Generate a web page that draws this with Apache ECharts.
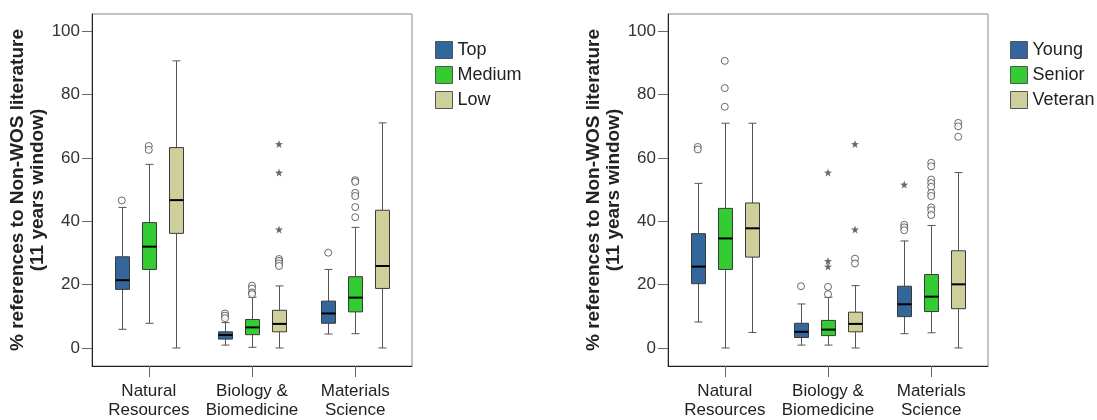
<!DOCTYPE html>
<html>
<head>
<meta charset="utf-8">
<script src="https://cdn.jsdelivr.net/npm/echarts@6/dist/echarts.min.js"></script>
<style>
  html, body { margin: 0; padding: 0; background: #fff; }
  #chart { width: 1097px; height: 420px; }
</style>
</head>
<body>
<div id="chart"></div>
<script>
// categories and ticks
var categories = ['Natural\nResources', 'Biology &\nBiomedicine', 'Materials\nScience'];
var yTicks = [0, 20, 40, 60, 80, 100];
var leftNames = ['Top', 'Medium', 'Low'];
var rightNames = ['Young', 'Senior', 'Veteran'];
var groupColors = ['#33669a', '#33cc33', '#cfcf9b'];

// boxes: [low whisker, q1, median, q3, high whisker] per category
var topBox = [[5.9, 18.5, 21.4, 28.8, 44.4], [0.9, 2.8, 4.1, 5.1, 8.0], [4.4, 7.8, 10.9, 14.8, 24.8]];
var mediumBox = [[7.8, 24.8, 32.0, 39.6, 58.0], [0.2, 4.2, 6.5, 9.0, 16.0], [4.5, 11.4, 15.9, 22.5, 38.1]];
var lowBox = [[0, 36.2, 46.7, 63.3, 90.7], [0, 5.1, 7.6, 11.9, 19.6], [0, 18.8, 25.9, 43.5, 71.1]];
var youngBox = [[8.2, 20.3, 25.7, 36.1, 52.0], [0.9, 3.3, 5.1, 7.8, 13.9], [4.5, 9.9, 13.8, 19.5, 33.8]];
var seniorBox = [[0, 24.8, 34.6, 44.1, 71.0], [0.9, 3.9, 5.8, 8.7, 16.0], [4.8, 11.5, 16.2, 23.2, 38.7]];
var veteranBox = [[4.9, 28.7, 37.8, 45.8, 71.0], [0, 5.1, 7.6, 11.3, 19.7], [0, 12.4, 20.1, 30.7, 55.4]];

// outliers (circles) and extremes (stars): [category index, value]
var topOut = [[0, 46.6], [1, 10.9], [1, 10.2], [1, 9.4], [2, 30.1]];
var mediumOut = [[0, 63.8], [0, 62.6], [1, 19.7], [1, 18.8], [1, 17.5], [1, 17.0],
  [2, 53.0], [2, 52.5], [2, 49.0], [2, 48.0], [2, 44.5], [2, 41.3]];
var lowOut = [[1, 28.1], [1, 27.5], [1, 26.7], [1, 25.9]];
var lowExt = [[1, 64.4], [1, 55.4], [1, 37.4]];
var youngOut = [[0, 63.5], [0, 62.7], [1, 19.5], [2, 38.9], [2, 38.1], [2, 37.2]];
var youngExt = [[2, 51.6]];
var seniorOut = [[0, 90.7], [0, 82.1], [0, 76.2], [1, 19.3], [1, 17.0],
  [2, 58.5], [2, 57.4], [2, 53.2], [2, 52.1], [2, 50.9], [2, 49.0], [2, 48.0], [2, 44.4], [2, 43.5], [2, 42.0]];
var seniorExt = [[1, 55.4], [1, 27.5], [1, 25.7]];
var veteranOut = [[1, 28.2], [1, 26.7], [2, 71.1], [2, 70.0], [2, 66.7]];
var veteranExt = [[1, 64.4], [1, 37.4]];

var offsets = [-27, 0, 27];
var starPath = 'path://M0,-10L2.35,-3.24L9.51,-3.09L3.8,1.24L5.88,8.09L0,4L-5.88,8.09L-3.8,1.24L-9.51,-3.09L-2.35,-3.24Z';

function boxRenderer(offset) {
    return function (params, api) {
        var x = Math.round(api.coord([api.value(0), 0])[0] + offset) + 0.5;
        var yLow = api.coord([0, api.value(1)])[1];
        var yQ1 = api.coord([0, api.value(2)])[1];
        var yMed = api.coord([0, api.value(3)])[1];
        var yQ3 = api.coord([0, api.value(4)])[1];
        var yHigh = api.coord([0, api.value(5)])[1];
        var half = 7, cap = 4;
        var wStyle = {stroke: '#555', lineWidth: 1};
        return {
            type: 'group',
            children: [
                {type: 'line', shape: {x1: x, y1: yHigh, x2: x, y2: yQ3}, style: wStyle},
                {type: 'line', shape: {x1: x, y1: yQ1, x2: x, y2: yLow}, style: wStyle},
                {type: 'line', shape: {x1: x - cap, y1: yHigh, x2: x + cap, y2: yHigh}, style: wStyle},
                {type: 'line', shape: {x1: x - cap, y1: yLow, x2: x + cap, y2: yLow}, style: wStyle},
                {type: 'rect', shape: {x: x - half, y: yQ3, width: half * 2, height: yQ1 - yQ3},
                    style: {fill: api.visual('color'), stroke: '#3a3a3a', lineWidth: 1}},
                {type: 'line', shape: {x1: x - half, y1: yMed, x2: x + half, y2: yMed},
                    style: {stroke: '#000', lineWidth: 2}}
            ]
        };
    };
}

function boxSeries(name, box, idx, axisIdx) {
    return {
        name: name,
        type: 'custom',
        xAxisIndex: axisIdx,
        yAxisIndex: axisIdx,
        itemStyle: {color: groupColors[idx], borderColor: '#444', borderWidth: 1},
        renderItem: boxRenderer(offsets[idx]),
        encode: {x: 0, y: [1, 2, 3, 4, 5]},
        data: box.map(function (b, i) { return [i].concat(b); }),
        z: 2
    };
}

function pointSeries(name, pts, idx, axisIdx, star) {
    return {
        name: name,
        type: 'scatter',
        xAxisIndex: axisIdx,
        yAxisIndex: axisIdx,
        symbol: star ? starPath : 'circle',
        symbolSize: star ? 8 : 7,
        symbolOffset: [offsets[idx], 0],
        itemStyle: star ? {color: '#444'} : {color: '#fff', borderColor: '#444', borderWidth: 1},
        data: pts,
        z: 3
    };
}

function xAxisFor(gridIndex) {
    return {
        type: 'value', gridIndex: gridIndex, min: -0.55, max: 2.55, position: 'bottom',
        axisLine: {show: true, onZero: false, lineStyle: {color: '#222'}},
        axisTick: {show: true, length: 11, customValues: [0, 1, 2], lineStyle: {color: '#666'}},
        axisLabel: {
            customValues: [0, 1, 2], margin: 16, fontSize: 17, lineHeight: 19, color: '#222',
            formatter: function (v) { return categories[Math.round(v)]; }
        },
        splitLine: {show: false}
    };
}

function yAxisFor(gridIndex) {
    return {
        type: 'value', gridIndex: gridIndex, min: -5.7, max: 105.5, position: 'left',
        name: '% references to Non-WOS literature\n(11 years window)',
        nameLocation: 'middle', nameRotate: 90, nameGap: 41,
        nameTextStyle: {fontSize: 19, fontWeight: 'bold', lineHeight: 20, color: '#222'},
        axisLine: {show: true, onZero: false, lineStyle: {color: '#222'}},
        axisTick: {show: true, length: 10, customValues: yTicks, lineStyle: {color: '#666'}},
        axisLabel: {customValues: yTicks, margin: 12, fontSize: 17, color: '#333'},
        splitLine: {show: false}
    };
}

function legendAt(left, names) {
    return {
        left: left, top: 41, orient: 'vertical', icon: 'rect', padding: 0,
        itemWidth: 17, itemHeight: 17, itemGap: 7,
        textStyle: {fontSize: 18, color: '#222'},
        itemStyle: {borderColor: '#555', borderWidth: 1},
        data: names
    };
}

var series = [];
[topBox, mediumBox, lowBox].forEach(function (b, i) { series.push(boxSeries(leftNames[i], b, i, 0)); });
[youngBox, seniorBox, veteranBox].forEach(function (b, i) { series.push(boxSeries(rightNames[i], b, i, 1)); });
series.push(pointSeries('Top out', topOut, 0, 0, false));
series.push(pointSeries('Medium out', mediumOut, 1, 0, false));
series.push(pointSeries('Low out', lowOut, 2, 0, false));
series.push(pointSeries('Low ext', lowExt, 2, 0, true));
series.push(pointSeries('Young out', youngOut, 0, 1, false));
series.push(pointSeries('Young ext', youngExt, 0, 1, true));
series.push(pointSeries('Senior out', seniorOut, 1, 1, false));
series.push(pointSeries('Senior ext', seniorExt, 1, 1, true));
series.push(pointSeries('Veteran out', veteranOut, 2, 1, false));
series.push(pointSeries('Veteran ext', veteranExt, 2, 1, true));

var chart = echarts.init(document.getElementById('chart'), null, {renderer: 'canvas'});
chart.setOption({
    animation: false,
    backgroundColor: '#fff',
    textStyle: {fontFamily: '"Liberation Sans", Arial, sans-serif'},
    grid: [
        {left: 92, top: 14, width: 320, height: 352, show: true, borderColor: '#888', borderWidth: 1},
        {left: 668, top: 14, width: 320, height: 352, show: true, borderColor: '#888', borderWidth: 1}
    ],
    legend: [legendAt(435, leftNames), legendAt(1010, rightNames)],
    xAxis: [xAxisFor(0), xAxisFor(1)],
    yAxis: [yAxisFor(0), yAxisFor(1)],
    series: series
});
</script>
</body>
</html>
